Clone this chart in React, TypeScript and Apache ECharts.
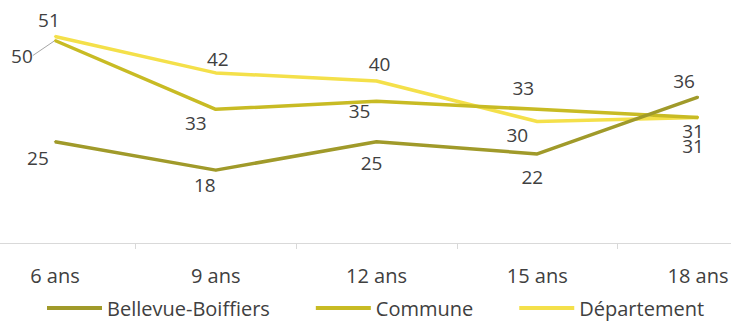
import React, { useEffect, useRef } from "react";
import * as echarts from "echarts";

const categories = ["6 ans", "9 ans", "12 ans", "15 ans", "18 ans"];
const seriesNames = ["Bellevue-Boiffiers", "Commune", "Département"];
const bellevue = [25, 18, 25, 22, 36];
const commune = [50, 33, 35, 33, 31];
const departement = [51, 42, 40, 30, 31];

const colors = ["#a09a2a", "#c8bb24", "#f4e04a"];

// label offsets (pixels) for each series / point
const labelOffsets = [
  [[-17, 16], [-11, 15], [-5, 21], [-5, 23], [-14, -16]],
  [[-33, 15], [-20, 14], [-17, 10], [-14, -21], [-5, 29]],
  [[-6, -16], [2, -14], [3, -17], [-20, 13], [-5, 14]],
];

const FONT = "'Open Sans', 'Liberation Sans', sans-serif";
const SHIFT = 26;

export default function App() {
  const ref = useRef<HTMLDivElement>(null);
  useEffect(() => {
    if (!ref.current) return;
    const chart = echarts.init(ref.current, undefined, { renderer: "svg" });
    const all = [bellevue, commune, departement];
    const series = all.map((vals, si) => ({
      name: seriesNames[si],
      type: "line",
      symbol: "circle",
      symbolSize: 2,
      showSymbol: true,
      lineStyle: { color: colors[si], width: 3.5 },
      itemStyle: { color: colors[si] },
      z: 3 - si,
      labelLine:
        si === 1
          ? { show: true, lineStyle: { color: "#a6a6a6", width: 1 } }
          : { show: false },
      labelLayout:
        si === 1
          ? (p: any) => {
              const off = labelOffsets[1][p.dataIndex];
              const res: any = { dx: off[0], dy: off[1] };
              if (p.dataIndex === 0) {
                const cx = p.rect.x + p.rect.width / 2;
                const cy = p.rect.y + p.rect.height / 2;
                res.labelLinePoints = [
                  [cx - 2, cy + 6],
                  [cx - 2, cy + 20],
                  [cx - 12, cy + 20],
                ];
              }
              return res;
            }
          : undefined,
      data: vals.map((v, i) => ({
        value: v,
        label: {
          show: true,
          position: "inside",
          offset: si === 1 ? [0, 0] : labelOffsets[si][i],
          align: "center",
          verticalAlign: "middle",
          color: "#404040",
          fontSize: 19,
          fontFamily: FONT,
        },
        labelLine: si === 1 && i === 0 ? { show: true } : { show: false },
      })),
    }));
    chart.setOption({
      animation: false,
      backgroundColor: "#ffffff",
      color: colors,
      grid: { left: 0.6, right: 1.6, top: 0, bottom: 80, containLabel: false },
      xAxis: {
        type: "category",
        data: categories,
        boundaryGap: true,
        axisLine: { show: true, lineStyle: { color: "#d9d9d9", width: 1 } },
        axisTick: { show: true, length: 6, lineStyle: { color: "#d9d9d9" } },
        axisLabel: {
          margin: 22,
          color: "#404040",
          fontSize: 20,
          fontFamily: FONT,
          interval: 0,
        },
        splitLine: { show: false },
      },
      yAxis: {
        type: "value",
        min: 0,
        max: 60,
        show: false,
        splitLine: { show: false },
      },
      legend: {
        data: seriesNames,
        left: 42 + SHIFT,
        top: 293,
        icon: "rect",
        itemWidth: 55,
        itemHeight: 4,
        itemGap: 46,
        textStyle: { color: "#404040", fontSize: 20, fontFamily: FONT },
      },
      series,
    });
    return () => chart.dispose();
  }, []);
  return (
    <div
      style={{
        position: "absolute",
        left: 0,
        top: 0,
        width: 731,
        height: 323,
        overflow: "hidden",
        background: "#ffffff",
      }}
    >
      <div
        ref={ref}
        style={{ position: "absolute", left: -SHIFT, top: 0, width: 806, height: 323 }}
      />
    </div>
  );
}
